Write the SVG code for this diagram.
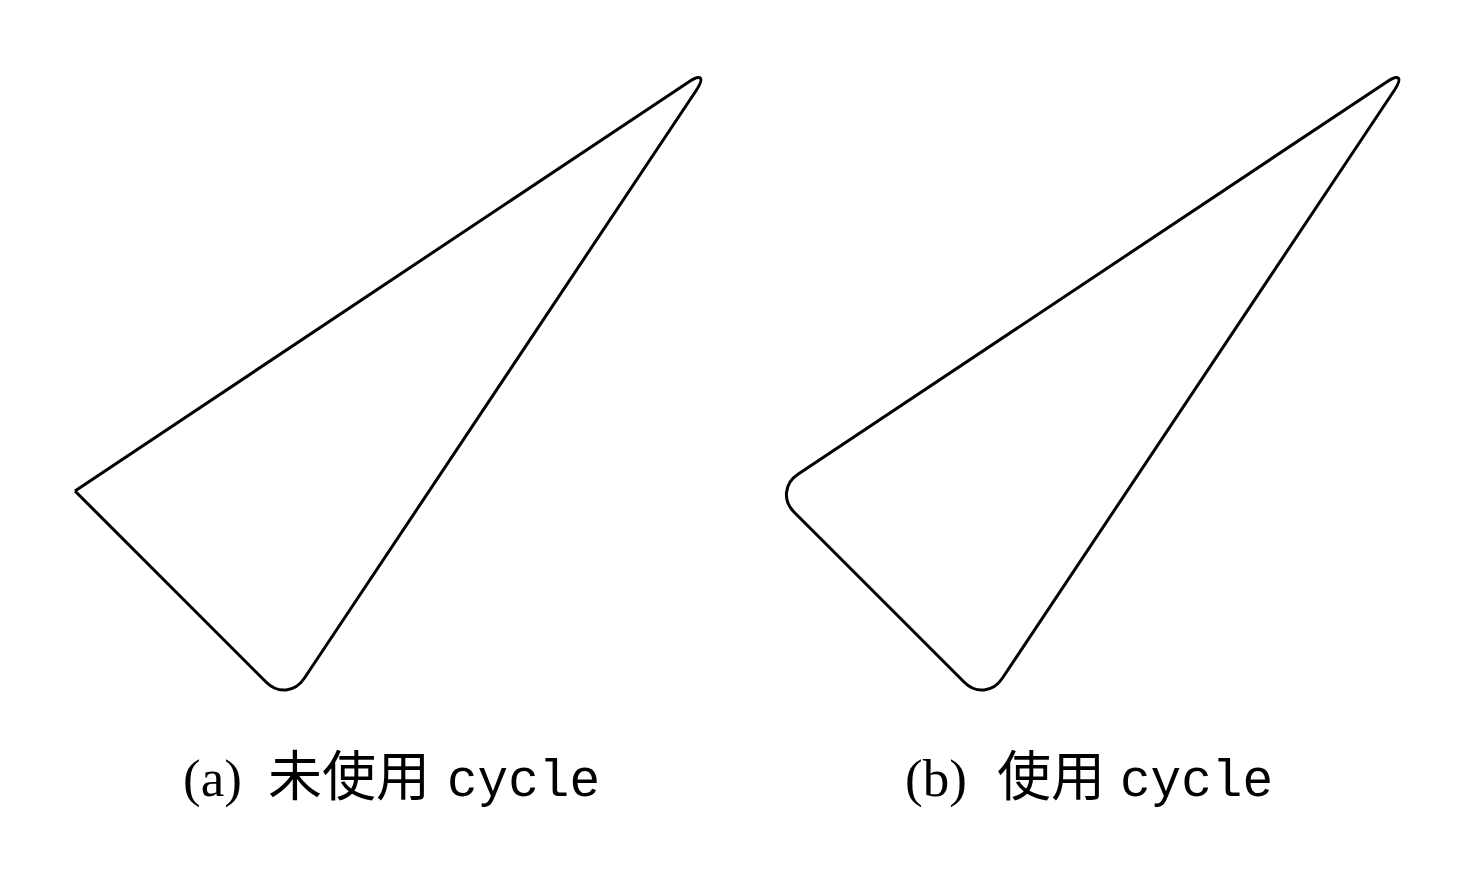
<svg xmlns="http://www.w3.org/2000/svg" width="1476" height="894" viewBox="0 0 1476 894">
<style>
.shape{fill:none;stroke:#000;stroke-width:3;stroke-linejoin:round}
.ser{font-family:"Liberation Serif","Noto Serif",serif;font-size:53px;fill:#000}
.cjk{font-family:"Noto Sans CJK SC","Noto Sans CJK JP",sans-serif;font-size:54px;fill:#000}
.mono{font-family:"Liberation Mono","DejaVu Sans Mono",monospace;font-size:51px;fill:#000}
</style>
<rect width="1476" height="894" fill="#fff"/>
<g id="connectors">
<path id="shape-a" class="shape" style="stroke-linejoin:miter" d="M 75 491 L 687.54 82.64 C 701.33 73.45 705.05 77.17 695.86 90.96 L 304.14 678.54 C 294.95 692.33 278.0 694.0 266.29 682.29 L 75 491"/>
<path id="shape-b" class="shape" d="M 797.96 474.36 L 1385.54 82.64 C 1399.33 73.45 1403.05 77.17 1393.86 90.96 L 1002.14 678.54 C 992.95 692.33 976.0 694.0 964.29 682.29 L 794.21 512.21 C 782.5 500.5 784.17 483.55 797.96 474.36 Z"/>
</g>
<g id="caption-a">
<text class="ser" x="183" y="796">(a)</text>
<text class="cjk" x="268" y="796">未使用</text>
<text class="mono" x="447" y="796">cycle</text>
</g>
<g id="caption-b">
<text class="ser" x="905" y="796">(b)</text>
<text class="cjk" x="997" y="796">使用</text>
<text class="mono" x="1120" y="796">cycle</text>
</g>
</svg>
